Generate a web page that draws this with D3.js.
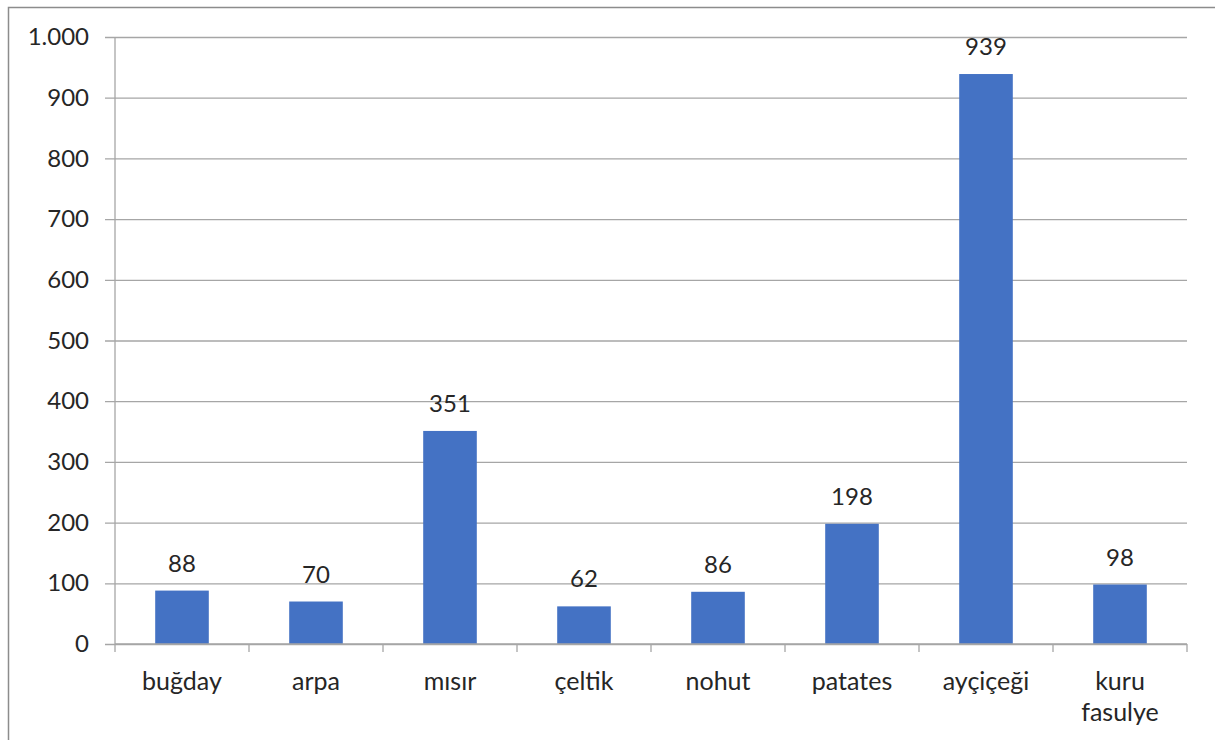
<!DOCTYPE html>
<html>
<head>
<meta charset="utf-8">
<script src="https://cdn.jsdelivr.net/npm/d3@7"></script>
<style>
  body { margin: 0; background: #fff; }
  text { font-family: Lato, "Open Sans", sans-serif; fill: #262626; }
</style>
</head>
<body>
<div id="graph"></div>
<script>
// chart data
var categories = ["buğday", "arpa", "mısır", "çeltik", "nohut", "patates", "ayçiçeği", "kuru fasulye"];
var values = [88, 70, 351, 62, 86, 198, 939, 98];
var yTicks = [0, 100, 200, 300, 400, 500, 600, 700, 800, 900, 1000];

var svg = d3.select('#graph').append("svg")
  .attr("width", 1215)
  .attr("height", 740);

// chart border (only top and left visible in the picture)
svg.append("path")
  .attr("d", "M8.5,740 V7.5 H1215")
  .attr("fill", "none")
  .attr("stroke", "#8c8c8c")
  .attr("stroke-width", 1.5);

var margin = {top: 37, left: 115},
  width = 1187 - 115,
  height = 644 - 37,
  g = svg.append("g").attr("transform", "translate(" + margin.left + "," + margin.top + ")");

var x = d3.scaleBand().domain(categories).range([0, width]).paddingInner(0.6).paddingOuter(0.3);
var xb = d3.scaleBand().domain(categories).range([0, width]);
var y = d3.scaleLinear().domain([0, 1000]).range([height, 0]);

var fmt = d3.formatLocale({decimal: ",", thousands: ".", grouping: [3], currency: ["", "₺"]}).format(",d");

// gridlines + y labels
var yAxis = g.append("g")
  .call(d3.axisLeft(y).tickValues(yTicks).tickSize(-width - 10).tickPadding(26).tickFormat(fmt));
yAxis.select(".domain").remove();
yAxis.selectAll(".tick line").attr("x1", -10).attr("x2", width).attr("stroke", "#a6a6a6").attr("stroke-width", 1.3);
yAxis.selectAll(".tick text").attr("font-size", 24).attr("font-family", "Lato").attr("fill", "#262626");

// vertical axis line
g.append("line")
  .attr("x1", 0).attr("x2", 0).attr("y1", 0).attr("y2", height)
  .attr("stroke", "#a6a6a6").attr("stroke-width", 1.3);

// bars
g.selectAll(".bar")
  .data(values)
  .enter().append("rect")
  .attr("class", "bar")
  .attr("x", function(d, i) { return x(categories[i]); })
  .attr("width", x.bandwidth())
  .attr("y", function(d) { return y(d); })
  .attr("height", function(d) { return height - y(d); })
  .attr("fill", "#4472c4");

// value labels
g.selectAll(".val")
  .data(values)
  .enter().append("text")
  .attr("class", "val")
  .attr("x", function(d, i) { return x(categories[i]) + x.bandwidth() / 2; })
  .attr("y", function(d) { return y(d) - 19; })
  .attr("text-anchor", "middle")
  .attr("font-size", 24)
  .text(function(d) { return d; });

// x axis line and ticks
g.append("line")
  .attr("x1", 0).attr("x2", width).attr("y1", height).attr("y2", height)
  .attr("stroke", "#a6a6a6").attr("stroke-width", 1.3);
g.selectAll(".xtick")
  .data(categories.concat([null]))
  .enter().append("line")
  .attr("class", "xtick")
  .attr("x1", function(d, i) { return i * xb.bandwidth(); })
  .attr("x2", function(d, i) { return i * xb.bandwidth(); })
  .attr("y1", height).attr("y2", height + 8)
  .attr("stroke", "#a6a6a6").attr("stroke-width", 1.3);

// category labels
g.selectAll(".cat")
  .data(categories)
  .enter().append("text")
  .attr("class", "cat")
  .attr("x", function(d) { return xb(d) + xb.bandwidth() / 2; })
  .attr("y", height + 46)
  .attr("text-anchor", "middle")
  .attr("font-size", 25)
  .each(function(d) {
    var words = d === "kuru fasulye" ? ["kuru", "fasulye"] : [d];
    var t = d3.select(this);
    words.forEach(function(w, i) {
      t.append("tspan").attr("x", xb(d) + xb.bandwidth() / 2).attr("dy", i ? 31 : 0).text(w);
    });
  });
</script>
</body>
</html>
